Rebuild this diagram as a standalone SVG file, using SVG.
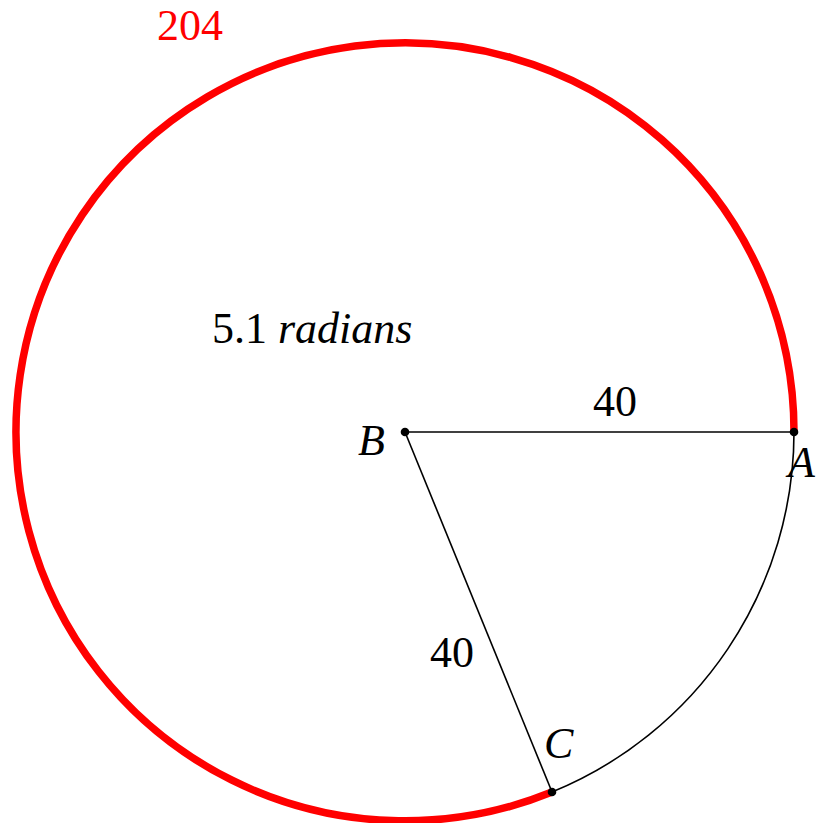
<svg xmlns="http://www.w3.org/2000/svg" width="817" height="823" viewBox="0 0 817 823">
<style>
.lbl{font-family:"Liberation Serif","Times New Roman",serif;font-size:44px;fill:#000}
.it{font-style:italic}
.red{fill:#ff0000}
.thin{fill:none;stroke:#000;stroke-width:1.6}
.dot{fill:#000}
</style>
<rect width="817" height="823" fill="#fff"/>
<g id="connectors">
<path id="major-arc" d="M794 432 A389 389 0 1 0 552 792" fill="none" stroke="#ff0000" stroke-width="7.5"/>
<path id="minor-arc" class="thin" d="M794 432 A389 389 0 0 1 552 792"/>
<line id="BA" class="thin" x1="405" y1="432" x2="794" y2="432"/>
<line id="BC" class="thin" x1="405" y1="432" x2="552" y2="792"/>
</g>
<g id="B"><circle class="dot" cx="405" cy="432" r="4.3"/><text class="lbl it" x="358" y="455">B</text></g>
<g id="A"><circle class="dot" cx="794" cy="432" r="4.3"/><text class="lbl it" x="788" y="477">A</text></g>
<g id="C"><circle class="dot" cx="552" cy="792" r="4.3"/><text class="lbl it" x="544" y="758">C</text></g>
<g id="labels">
<text class="lbl red" x="157" y="40">204</text>
<text class="lbl" x="212" y="343">5.1 <tspan class="it">radians</tspan></text>
<text class="lbl" x="593" y="416">40</text>
<text class="lbl" x="430" y="667">40</text>
</g>
</svg>
